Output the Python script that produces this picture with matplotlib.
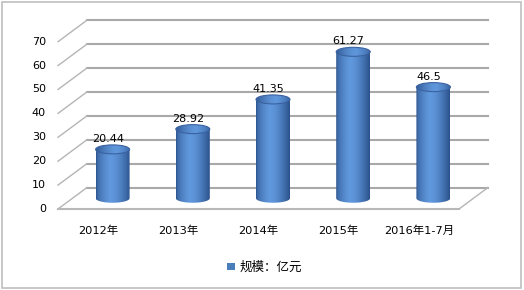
import numpy as np
import matplotlib
matplotlib.use("Agg")
import matplotlib.pyplot as plt
from matplotlib.patches import Polygon, Ellipse, Rectangle, Patch

plt.rcParams['font.family'] = ['DejaVu Sans', 'Noto Sans CJK SC']

# data
categories = ['2012年', '2013年', '2014年', '2015年', '2016年1-7月']
values = [20.44, 28.92, 41.35, 61.27, 46.5]
labels = ['20.44', '28.92', '41.35', '61.27', '46.5']
series_name = '规模：亿元'
yticks = [0, 10, 20, 30, 40, 50, 60, 70]

W, H = 524, 290
fig = plt.figure(figsize=(W / 100, H / 100), dpi=100)
ax = fig.add_axes([0, 0, 1, 1])
ax.axis('off')

# pixel scales of the front plane
px_cat = 80.2
px_val = 2.39
x0_px, y0_px = 58, 209

DX = 29 / px_cat   # depth offset
DY = 21.5 / px_val
n = len(categories)
grid_c = '#a9a9a9'

# back wall gridlines and side wall diagonals
for v in yticks:
    ax.plot([DX, n + DX], [v + DY, v + DY], color=grid_c, lw=1.5, zorder=1)
    ax.plot([0, DX], [v, v + DY], color='#b5b5b5', lw=1.0, zorder=1)
    ax.text(-0.15, v, str(v), ha='right', va='center', fontsize=8)
# floor
ax.plot([0, n], [0, 0], color='#b8b8b8', lw=1.5, zorder=1)
ax.plot([n, n + DX], [0, DY], color='#b5b5b5', lw=1.0, zorder=1)

# cylinder shading (left dark -> light -> dark right)
half_w = 17 / px_cat
ell_h = 9 / px_val
grad = np.linspace(0, 1, 64)
light_col = np.array([0.38, 0.60, 0.87])
dark_col = np.array([0.17, 0.32, 0.55])
body_rgb = np.zeros((1, 64, 3))
for k, t in enumerate(grad):
    if t < 0.4:
        c = dark_col + (light_col - dark_col) * (t / 0.4) ** 0.5
    else:
        c = light_col + (dark_col - light_col) * ((t - 0.4) / 0.6) ** 1.6
    body_rgb[0, k] = c
top_rgb = body_rgb * 0.85 + 0.15 * np.array([0.35, 0.55, 0.82])

theta = np.linspace(np.pi, 2 * np.pi, 60)
for i, v in enumerate(values):
    cx = i + 0.5 + DX / 2
    yb = DY / 2
    yt = yb + v
    xs = cx + half_w * np.cos(theta)
    ys = yb + (ell_h / 2) * np.sin(theta)
    pts = [(cx - half_w, yt)] + list(zip(xs, ys)) + [(cx + half_w, yt)]
    clip = Polygon(pts, closed=True, transform=ax.transData)
    im = ax.imshow(body_rgb, extent=(cx - half_w, cx + half_w, yb - ell_h, yt),
                   aspect='auto', zorder=3, interpolation='bilinear')
    im.set_clip_path(clip)
    top = Ellipse((cx, yt), 2 * half_w, ell_h, transform=ax.transData)
    im2 = ax.imshow(top_rgb[:, ::-1], extent=(cx - half_w, cx + half_w, yt - ell_h, yt + ell_h),
                    aspect='auto', zorder=4, interpolation='bilinear')
    im2.set_clip_path(top)
    ax.add_patch(Ellipse((cx, yt), 2 * half_w, ell_h, fill=False,
                         ec='#3a62a0', lw=0.8, zorder=5))
    ax.text(cx - 0.06, yt + ell_h / 2 + 0.4, labels[i], ha='center', va='bottom',
            fontsize=8, zorder=6)
    ax.text(i + 0.5, -9.2, categories[i], ha='center', va='center', fontsize=8.2)

ax.set_xlim(-x0_px / px_cat, (W - x0_px) / px_cat)
ax.set_ylim(-(H - y0_px) / px_val, y0_px / px_val)

fig.legend(handles=[Patch(facecolor='#4a7ebb', edgecolor='none', label=series_name)],
           loc='center', bbox_to_anchor=(0.505, 0.078), frameon=False, fontsize=9,
           handlelength=0.6, handleheight=0.6, handletextpad=0.4)

fig.patches.append(Rectangle((2 / W, 2 / H), 519 / W, 286 / H, transform=fig.transFigure,
                             fill=False, ec='#bfbfbf', lw=1.2))

fig.savefig('out.png', dpi=100)
